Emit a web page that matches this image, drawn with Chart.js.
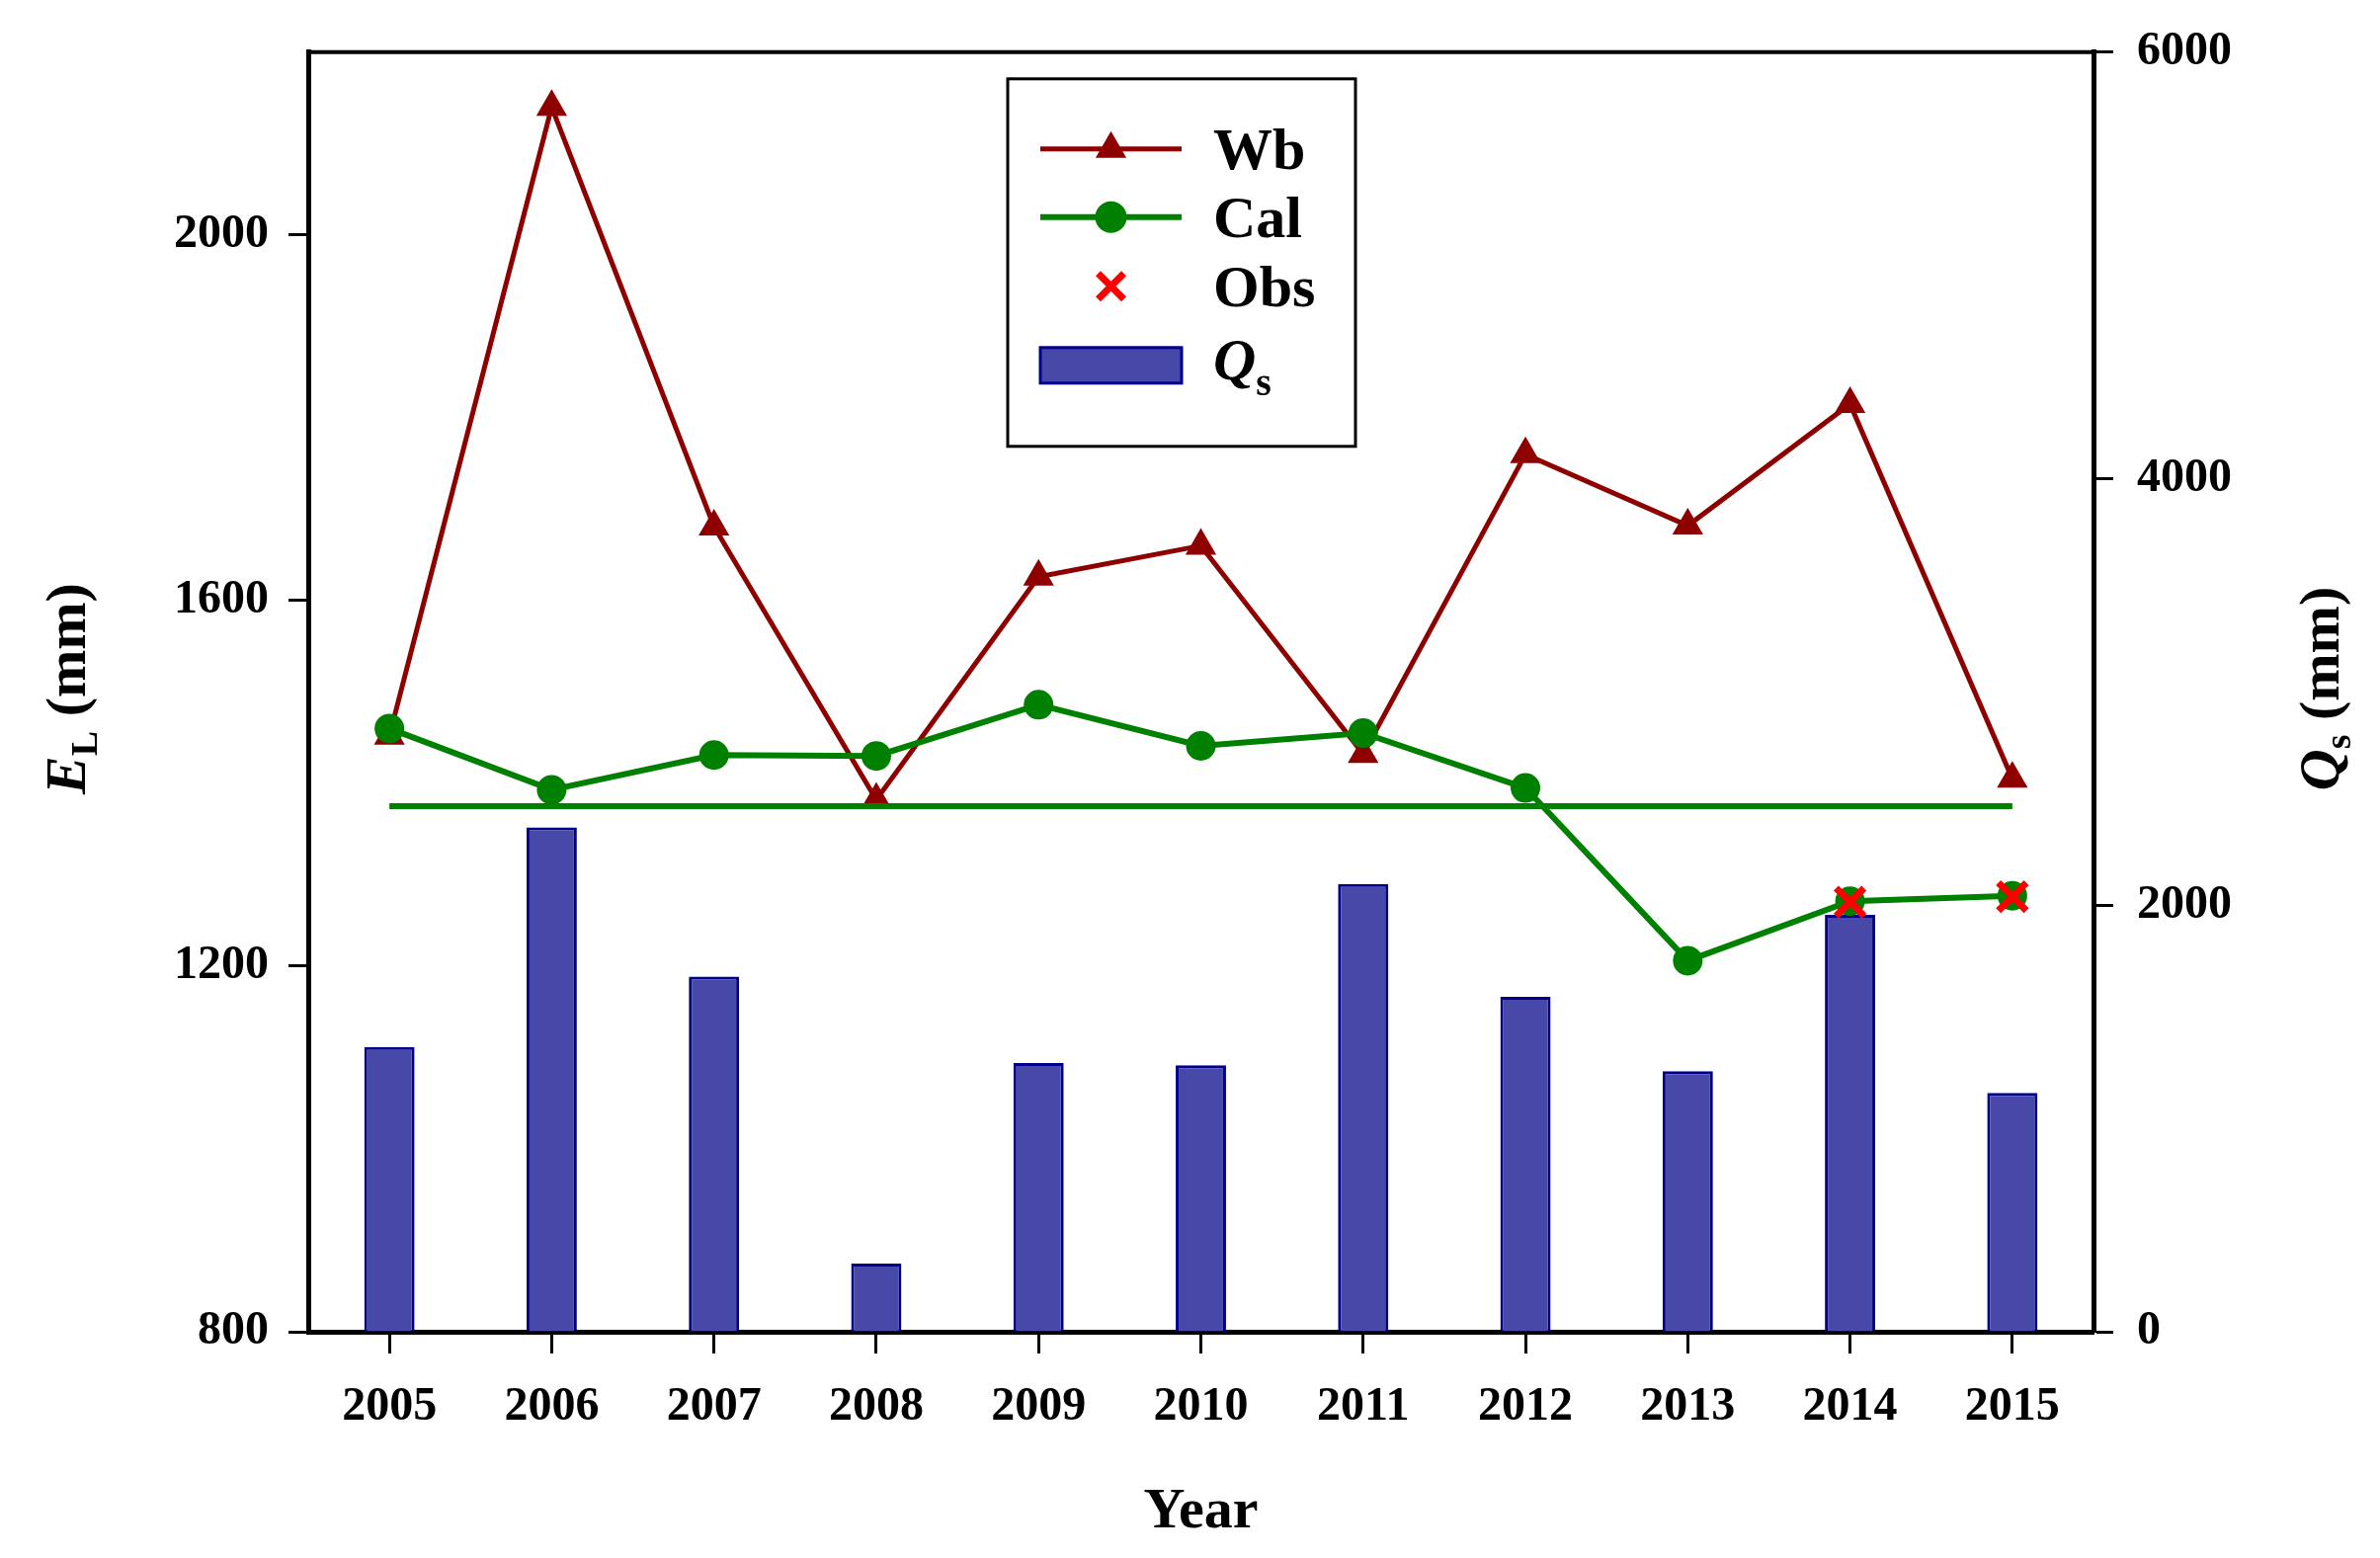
<!DOCTYPE html>
<html>
<head>
<meta charset="utf-8">
<script src="https://cdn.jsdelivr.net/npm/chart.js@4.4.1/dist/chart.umd.min.js"></script>
<style>
  html, body { margin: 0; padding: 0; background: #fff; }
  #wrap { width: 2409px; height: 1577px; }
</style>
</head>
<body>
<div id="wrap"><canvas id="chart"></canvas></div>
<script>
// values
const years = ['2005', '2006', '2007', '2008', '2009', '2010', '2011', '2012', '2013', '2014', '2015'];
const wb = [1452, 2140, 1681, 1382, 1626, 1660, 1432, 1760, 1682, 1815, 1405];
const cal = [1460, 1393, 1431, 1430, 1486, 1441, 1455, 1395, 1206, 1271, 1277];
const obs = [null, null, null, null, null, null, null, null, null, 1270, 1276];
const calFlat = [1375, 1375, 1375, 1375, 1375, 1375, 1375, 1375, 1375, 1375, 1375];
const qs = [1335, 2365, 1665, 320, 1260, 1250, 2100, 1570, 1222, 1955, 1120];
const leftTicks = [800, 1200, 1600, 2000];
const rightTicks = [0, 2000, 4000, 6000];

const SERIF = '"Liberation Serif", "Times New Roman", serif';
const WB_COL = '#8e0000';
const CAL_COL = '#008000';
const OBS_COL = '#ff0000';
const QS_FILL = '#4848a8';
const QS_EDGE = '#00008b';

function drawParts(ctx, parts, cx, cy, rotate) {
  // draws a run of text pieces (for italic letters and subscripts) centred on cx,cy
  ctx.save();
  ctx.translate(cx, cy);
  if (rotate) ctx.rotate(-Math.PI / 2);
  let total = 0;
  parts.forEach(p => { ctx.font = p.font; total += ctx.measureText(p.t).width; });
  let x = -total / 2;
  ctx.textBaseline = 'alphabetic';
  ctx.textAlign = 'left';
  ctx.fillStyle = '#000';
  parts.forEach(p => {
    ctx.font = p.font;
    ctx.fillText(p.t, x, 20 + (p.dy || 0));
    x += ctx.measureText(p.t).width;
  });
  ctx.restore();
}

function tri(ctx, x, y, r) {
  ctx.beginPath();
  for (let i = 0; i < 3; i++) {
    const a = i * 2 * Math.PI / 3;
    const px = x + Math.sin(a) * r, py = y - Math.cos(a) * r;
    if (i === 0) ctx.moveTo(px, py); else ctx.lineTo(px, py);
  }
  ctx.closePath();
  ctx.fill();
}

const decor = {
  id: 'decor',
  afterDatasetsDraw(chart) {
    const ctx = chart.ctx;
    const ca = chart.chartArea;
    // top frame line
    ctx.save();
    ctx.strokeStyle = '#000';
    ctx.lineWidth = 4;
    ctx.beginPath();
    ctx.moveTo(ca.left - 2, ca.top);
    ctx.lineTo(ca.right + 2, ca.top);
    ctx.stroke();

    // legend box
    const bx = ca.left + 708, by = ca.top + 27, bw = 352, bh = 372;
    ctx.fillStyle = '#fff';
    ctx.fillRect(bx, by, bw, bh);
    ctx.lineWidth = 3;
    ctx.strokeRect(bx, by, bw, bh);
    const lx0 = bx + 33, lx1 = bx + 176, lxm = (lx0 + lx1) / 2, tx = bx + 208;
    const rows = [by + 71, by + 140, by + 210, by + 290];
    const fnt = 'bold 60px ' + SERIF;

    // Wb
    ctx.strokeStyle = WB_COL; ctx.fillStyle = WB_COL; ctx.lineWidth = 5;
    ctx.beginPath(); ctx.moveTo(lx0, rows[0]); ctx.lineTo(lx1, rows[0]); ctx.stroke();
    tri(ctx, lxm, rows[0], 18);
    // Cal
    ctx.strokeStyle = CAL_COL; ctx.fillStyle = CAL_COL; ctx.lineWidth = 6;
    ctx.beginPath(); ctx.moveTo(lx0, rows[1]); ctx.lineTo(lx1, rows[1]); ctx.stroke();
    ctx.beginPath(); ctx.arc(lxm, rows[1], 16, 0, Math.PI * 2); ctx.fill();
    // Obs
    ctx.strokeStyle = OBS_COL; ctx.lineWidth = 7;
    ctx.beginPath();
    ctx.moveTo(lxm - 13, rows[2] - 13); ctx.lineTo(lxm + 13, rows[2] + 13);
    ctx.moveTo(lxm + 13, rows[2] - 13); ctx.lineTo(lxm - 13, rows[2] + 13);
    ctx.stroke();
    // Qs
    ctx.fillStyle = QS_FILL; ctx.strokeStyle = QS_EDGE; ctx.lineWidth = 3;
    ctx.fillRect(lx0, rows[3] - 18, lx1 - lx0, 36);
    ctx.strokeRect(lx0, rows[3] - 18, lx1 - lx0, 36);

    ctx.fillStyle = '#000';
    ctx.font = fnt;
    ctx.textAlign = 'left';
    ctx.textBaseline = 'alphabetic';
    ctx.fillText('Wb', tx, rows[0] + 20);
    ctx.fillText('Cal', tx, rows[1] + 20);
    ctx.fillText('Obs', tx, rows[2] + 20);
    ctx.font = 'italic bold 60px ' + SERIF;
    ctx.fillText('Q', tx, rows[3] + 14);
    const qw = ctx.measureText('Q').width;
    ctx.font = 'bold 40px ' + SERIF;
    ctx.fillText('s', tx + qw, rows[3] + 30);
    ctx.restore();

    // axis titles
    drawParts(ctx, [
      { t: 'E', font: 'italic bold 58px ' + SERIF },
      { t: 'L', font: 'bold 38px ' + SERIF, dy: 12 },
      { t: ' (mm)', font: 'bold 58px ' + SERIF }
    ], ca.left - 246, 697, true);
    drawParts(ctx, [
      { t: 'Q', font: 'italic bold 58px ' + SERIF },
      { t: 's', font: 'bold 38px ' + SERIF, dy: 12 },
      { t: ' (mm)', font: 'bold 58px ' + SERIF }
    ], ca.right + 228, 697, true);
    drawParts(ctx, [
      { t: 'Year', font: 'bold 58px ' + SERIF }
    ], (ca.left + ca.right) / 2, 1526, false);
  }
};

const tickFont = { family: SERIF, size: 48, weight: 'bold' };
const plain = v => String(v);

new Chart(document.getElementById('chart'), {
  type: 'bar',
  data: {
    labels: years,
    datasets: [
      {
        type: 'line', label: 'Obs', data: obs, yAxisID: 'y', order: 0,
        showLine: false, pointStyle: 'crossRot', pointRadius: 20,
        pointBorderWidth: 7, borderColor: OBS_COL, backgroundColor: OBS_COL
      },
      {
        type: 'line', label: 'Cal', data: cal, yAxisID: 'y', order: 1,
        borderColor: CAL_COL, backgroundColor: CAL_COL, borderWidth: 6,
        pointStyle: 'circle', pointRadius: 15, pointBorderWidth: 0, tension: 0
      },
      {
        type: 'line', label: 'Cal flat', data: calFlat, yAxisID: 'y', order: 2,
        borderColor: CAL_COL, borderWidth: 6, pointRadius: 0, tension: 0
      },
      {
        type: 'line', label: 'Wb', data: wb, yAxisID: 'y', order: 3,
        borderColor: WB_COL, backgroundColor: WB_COL, borderWidth: 5,
        pointStyle: 'triangle', pointRadius: 18, pointBorderWidth: 0, tension: 0
      },
      {
        type: 'bar', label: 'Qs', data: qs, yAxisID: 'y1', order: 4,
        backgroundColor: QS_FILL, borderColor: QS_EDGE, borderWidth: 3,
        categoryPercentage: 1, barPercentage: 0.31, borderSkipped: 'bottom'
      }
    ]
  },
  options: {
    responsive: true,
    maintainAspectRatio: false,
    animation: false,
    layout: { padding: { top: 51, left: 0, right: 0, bottom: 0 } },
    plugins: { legend: { display: false }, tooltip: { enabled: false } },
    scales: {
      x: {
        offset: true,
        grid: { offset: false, drawOnChartArea: false, drawTicks: true, tickLength: 22, tickWidth: 3, tickColor: '#000' },
        border: { color: '#000', width: 5 },
        ticks: { color: '#000', font: tickFont, padding: 26, maxRotation: 0 },
        afterFit: s => { s.height = 229; }
      },
      y: {
        position: 'left', min: 800, max: 2200,
        afterBuildTicks: s => { s.ticks = leftTicks.map(v => ({ value: v })); },
        grid: { drawOnChartArea: false, drawTicks: true, tickLength: 20, tickWidth: 3, tickColor: '#000' },
        border: { color: '#000', width: 5 },
        ticks: { color: '#000', font: tickFont, padding: 20, callback: plain },
        afterFit: s => { s.width = 312; }
      },
      y1: {
        position: 'right', min: 0, max: 6000,
        afterBuildTicks: s => { s.ticks = rightTicks.map(v => ({ value: v })); },
        grid: { drawOnChartArea: false, drawTicks: true, tickLength: 20, tickWidth: 3, tickColor: '#000' },
        border: { color: '#000', width: 5 },
        ticks: { color: '#000', font: tickFont, padding: 24, callback: plain },
        afterFit: s => { s.width = 290; }
      }
    }
  },
  plugins: [decor]
});
</script>
</body>
</html>
